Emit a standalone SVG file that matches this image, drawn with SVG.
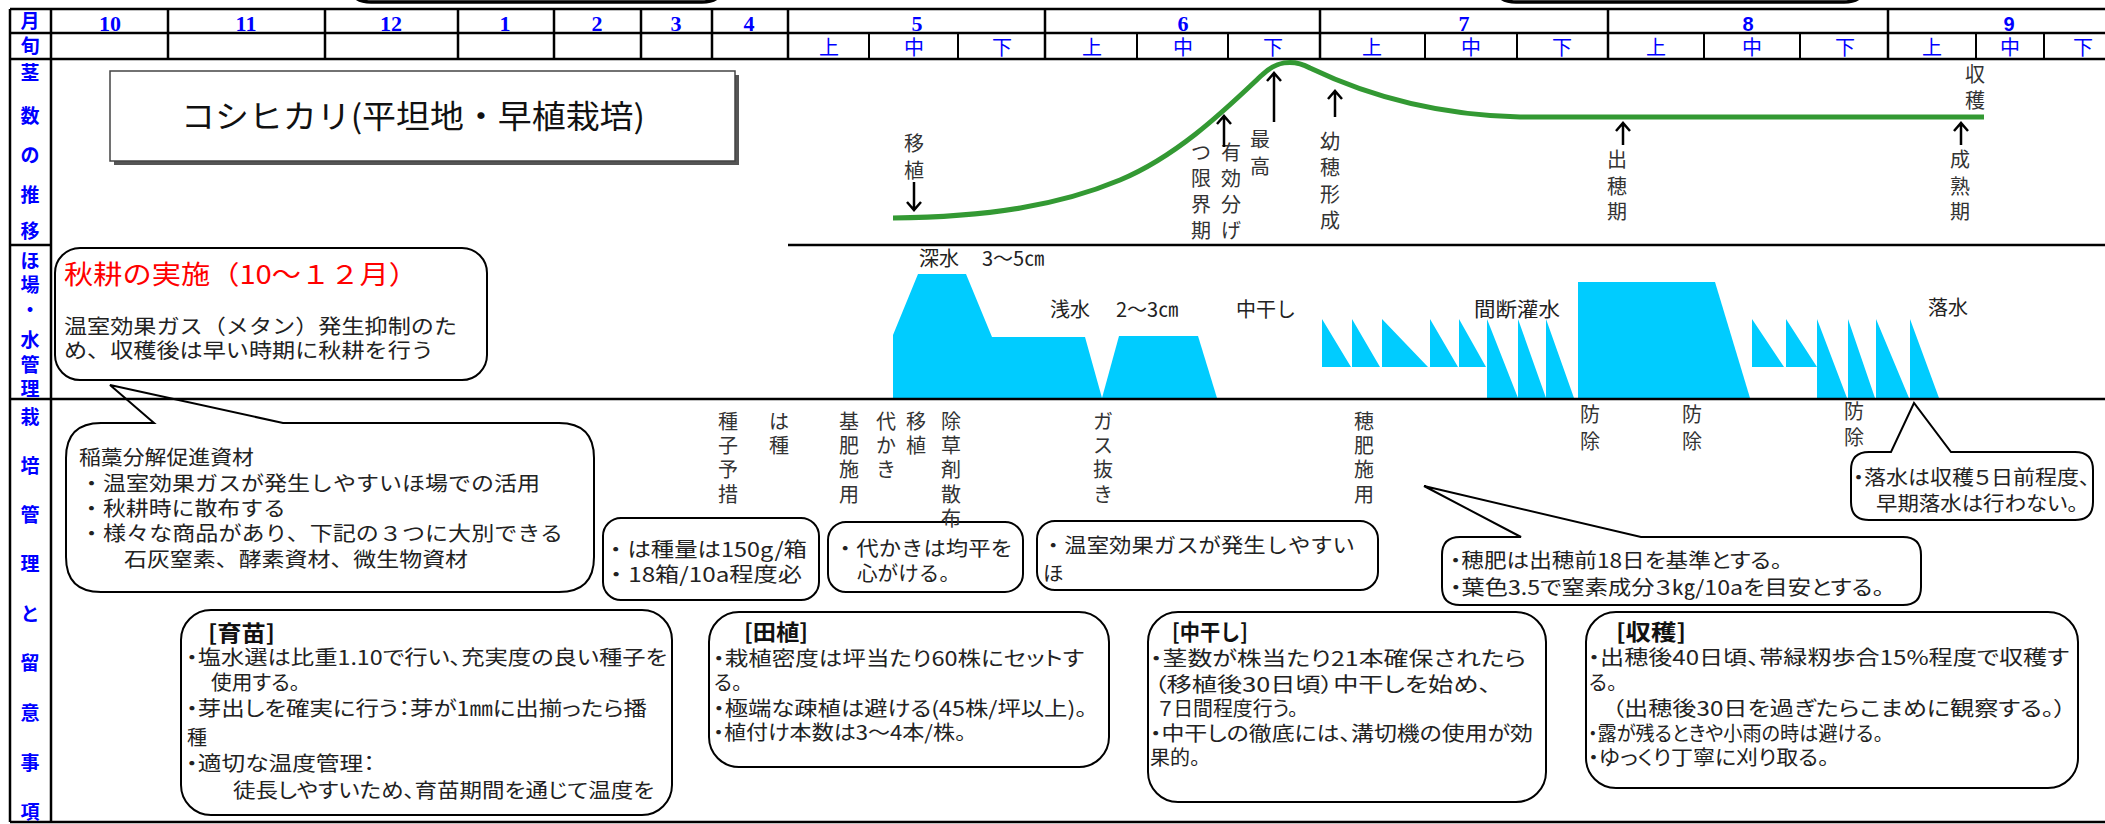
<svg xmlns="http://www.w3.org/2000/svg" width="2105" height="824" viewBox="0 0 2105 824">
<style>
.grid{stroke:#000;stroke-width:2.5;fill:none}
.sub{stroke:#000;stroke-width:2;fill:none}
.lbl{font-family:"Noto Sans CJK JP",sans-serif;font-size:19px;font-weight:bold;fill:#0000ff;text-anchor:middle}
.mon{font-family:"Liberation Serif",serif;font-size:22px;font-weight:bold;fill:#0000ff;text-anchor:middle}
.mons{font-family:"Liberation Sans",sans-serif;font-size:20px;font-weight:bold;fill:#0000ff;text-anchor:middle}
.jun{font-family:"Noto Sans CJK JP",sans-serif;font-size:20px;fill:#0000ff;text-anchor:middle}
.v{font-family:"Noto Sans CJK JP",sans-serif;font-size:20px;fill:#333;text-anchor:middle}
.w{font-family:"Noto Sans CJK JP",sans-serif;font-size:20px;fill:#222}
.t{font-family:"Noto Sans CJK JP",sans-serif;font-size:20px;fill:#222;font-feature-settings:"palt" 1}
.t2{font-family:"Noto Sans CJK JP",sans-serif;font-size:20.5px;fill:#222}
.hd{font-family:"Noto Sans CJK JP",sans-serif;font-size:22px;font-weight:bold;fill:#111}
.box{fill:#fff;stroke:#000;stroke-width:2}
.water{fill:#00ccff}
.arrow{stroke:#000;stroke-width:2.5;fill:none}
</style>

<g id="offpage-top" fill="none" stroke="#000" stroke-width="3.5">
<path d="M349,-20 Q349,2 371,2 L702,2 Q724,2 724,-20"/>
<path d="M1494,-20 Q1494,2 1516,2 L1844,2 Q1866,2 1866,-20"/>
</g>

<g id="title">
<rect x="114" y="75" width="625" height="90" fill="#555"/>
<rect x="110" y="71" width="625" height="90" fill="#fff" stroke="#444" stroke-width="1.5"/>
<text x="181" y="128" font-family="'Noto Sans CJK JP',sans-serif" font-size="32" fill="#111" textLength="464" lengthAdjust="spacingAndGlyphs">コシヒカリ(平坦地・早植栽培)</text>
</g>

<g id="water">
<path class="water" d="M893,398 L893,335 L918,274 L966,274 L992,337 L1085,337 L1102,398 Z"/>
<path class="water" d="M1102,398 L1119,336 L1198,336 L1217,398 Z"/>
<path class="water" d="M1322,319 L1322,367 L1351,367 Z M1352,319 L1352,367 L1380,367 Z M1382,319 L1382,367 L1428,367 Z M1430,319 L1430,367 L1458,367 Z M1459,319 L1459,367 L1486,367 Z"/>
<path class="water" d="M1487,319 L1487,398 L1518,398 Z M1518,319 L1518,398 L1546,398 Z M1546,319 L1546,398 L1574,398 Z"/>
<path class="water" d="M1578,282 L1715,282 L1750,398 L1578,398 Z"/>
<path class="water" d="M1752,319 L1752,367 L1784,367 Z M1786,319 L1786,367 L1817,367 Z"/>
<path class="water" d="M1817,319 L1817,398 L1847,398 Z M1848,319 L1848,398 L1875,398 Z M1876,319 L1876,398 L1909,398 Z M1910,319 L1910,398 L1939,398 Z"/>
<text class="w" x="919" y="266">深水 <tspan x="982">3～5㎝</tspan></text>
<text class="w" x="1050" y="317">浅水 <tspan x="1116">2～3㎝</tspan></text>
<text class="w" x="1236" y="317">中干し</text>
<text class="w" x="1474" y="317" textLength="86" lengthAdjust="spacingAndGlyphs">間断灌水</text>
<text class="w" x="1928" y="315">落水</text>
</g>

<g id="akiuchi-box">
<rect class="box" x="55" y="248" width="432" height="132" rx="25"/>
<text x="64" y="284" font-family="'Noto Sans CJK JP',sans-serif" font-size="26" fill="#ff0000" textLength="354" lengthAdjust="spacingAndGlyphs">秋耕の実施（10～１２月）</text>
<text class="t2" x="64" y="334" font-size="20" textLength="393" lengthAdjust="spacingAndGlyphs">温室効果ガス（メタン）発生抑制のた</text>
<text class="t2" x="64" y="358" font-size="20" textLength="370" lengthAdjust="spacingAndGlyphs">め、収穫後は早い時期に秋耕を行う</text>
</g>

<g id="inawara-box">
<path class="box" d="M101,423 L154,423 L110,385 L283,423 L559,423 Q594,423 594,458 L594,557 Q594,592 559,592 L101,592 Q66,592 66,557 L66,458 Q66,423 101,423 Z"/>
<text class="t2" x="79" y="465" textLength="175" lengthAdjust="spacingAndGlyphs">稲藁分解促進資材</text>
<text class="t2" x="80" y="491" textLength="460" lengthAdjust="spacingAndGlyphs">・温室効果ガスが発生しやすいほ場での活用</text>
<text class="t2" x="80" y="516" textLength="206" lengthAdjust="spacingAndGlyphs">・秋耕時に散布する</text>
<text class="t2" x="80" y="541" textLength="483" lengthAdjust="spacingAndGlyphs">・様々な商品があり、下記の３つに大別できる</text>
<text class="t2" x="124" y="567" textLength="344" lengthAdjust="spacingAndGlyphs">石灰窒素、酵素資材、微生物資材</text>
</g>

<g id="hashu-box">
<rect class="box" x="603" y="518" width="216" height="82" rx="18"/>
<text class="t2" x="604" y="557" textLength="203" lengthAdjust="spacingAndGlyphs">・は種量は150g/箱</text>
<text class="t2" x="604" y="582" textLength="198" lengthAdjust="spacingAndGlyphs">・18箱/10a程度必</text>
</g>

<g id="shirokaki-box">
<rect class="box" x="828" y="522" width="195" height="70" rx="18"/>
<text class="t2" x="834" y="556" textLength="179" lengthAdjust="spacingAndGlyphs">・代かきは均平を</text>
<text class="t2" x="857" y="581" textLength="103" lengthAdjust="spacingAndGlyphs">心がける。</text>
</g>

<g id="gasnuki-box">
<rect class="box" x="1037" y="521" width="341" height="69" rx="18"/>
<text class="t2" x="1042" y="553" textLength="313" lengthAdjust="spacingAndGlyphs">・温室効果ガスが発生しやすい</text>
<text class="t2" x="1043" y="581">ほ</text>
</g>

<g id="hogoe-box">
<path class="box" d="M1460,537 L1521,537 L1424,486 L1641,537 L1903,537 Q1921,537 1921,555 L1921,587 Q1921,605 1903,605 L1460,605 Q1442,605 1442,587 L1442,555 Q1442,537 1460,537 Z"/>
<text class="t" x="1450" y="568" textLength="332" lengthAdjust="spacingAndGlyphs">・穂肥は出穂前18日を基準とする。</text>
<text class="t" x="1450" y="595" textLength="434" lengthAdjust="spacingAndGlyphs">・葉色3.5で窒素成分３㎏/10aを目安とする。</text>
</g>

<g id="rakusui-box">
<path class="box" d="M1869,452 L1891,452 L1914,403 L1951,452 L2075,452 Q2093,452 2093,470 L2093,502 Q2093,520 2075,520 L1869,520 Q1851,520 1851,502 L1851,470 Q1851,452 1869,452 Z"/>
<text class="t" x="1853" y="485" textLength="237" lengthAdjust="spacingAndGlyphs">・落水は収穫５日前程度、</text>
<text class="t" x="1876" y="511" textLength="202" lengthAdjust="spacingAndGlyphs">早期落水は行わない。</text>
</g>

<g id="ikubyo-box">
<rect class="box" x="181" y="610" width="491" height="205" rx="30"/>
<text class="hd" x="208" y="641" textLength="67" lengthAdjust="spacingAndGlyphs">[育苗]</text>
<text class="t" x="186" y="665" textLength="481" lengthAdjust="spacingAndGlyphs">・塩水選は比重1.10で行い、充実度の良い種子を</text>
<text class="t" x="211" y="690" textLength="89" lengthAdjust="spacingAndGlyphs">使用する。</text>
<text class="t" x="186" y="716" textLength="461" lengthAdjust="spacingAndGlyphs">・芽出しを確実に行う：芽が1㎜に出揃ったら播</text>
<text class="t" x="187" y="745">種</text>
<text class="t" x="186" y="771" textLength="189" lengthAdjust="spacingAndGlyphs">・適切な温度管理：</text>
<text class="t" x="233" y="798" textLength="421" lengthAdjust="spacingAndGlyphs">徒長しやすいため、育苗期間を通じて温度を</text>
</g>

<g id="taue-box">
<rect class="box" x="709" y="612" width="400" height="155" rx="30"/>
<text class="hd" x="744" y="640" textLength="64" lengthAdjust="spacingAndGlyphs">[田植]</text>
<text class="t" x="713" y="666" textLength="371" lengthAdjust="spacingAndGlyphs">・栽植密度は坪当たり60株にセットす</text>
<text class="t" x="714" y="690">る。</text>
<text class="t" x="713" y="716" textLength="374" lengthAdjust="spacingAndGlyphs">・極端な疎植は避ける(45株/坪以上)。</text>
<text class="t" x="713" y="740" textLength="253" lengthAdjust="spacingAndGlyphs">・植付け本数は3～4本/株。</text>
</g>

<g id="nakaboshi-box">
<rect class="box" x="1148" y="612" width="398" height="190" rx="30"/>
<text class="hd" x="1172" y="640" textLength="76" lengthAdjust="spacingAndGlyphs">[中干し]</text>
<text class="t" x="1150" y="666" textLength="376" lengthAdjust="spacingAndGlyphs">・茎数が株当たり21本確保されたら</text>
<text class="t" x="1154" y="692" textLength="337" lengthAdjust="spacingAndGlyphs">（移植後30日頃）中干しを始め、</text>
<text class="t" x="1158" y="716" textLength="140" lengthAdjust="spacingAndGlyphs">７日間程度行う。</text>
<text class="t" x="1150" y="741" textLength="383" lengthAdjust="spacingAndGlyphs">・中干しの徹底には、溝切機の使用が効</text>
<text class="t" x="1150" y="765">果的。</text>
</g>

<g id="shukaku-box">
<rect class="box" x="1586" y="612" width="492" height="176" rx="30"/>
<text class="hd" x="1616" y="640" textLength="70" lengthAdjust="spacingAndGlyphs">[収穫]</text>
<text class="t" x="1588" y="665" textLength="481" lengthAdjust="spacingAndGlyphs">・出穂後40日頃、帯緑籾歩合15%程度で収穫す</text>
<text class="t" x="1589" y="690">る。</text>
<text class="t" x="1612" y="716" textLength="454" lengthAdjust="spacingAndGlyphs">（出穂後30日を過ぎたらこまめに観察する。）</text>
<text class="t" x="1588" y="741" textLength="295" lengthAdjust="spacingAndGlyphs">・露が残るときや小雨の時は避ける。</text>
<text class="t" x="1588" y="765" textLength="241" lengthAdjust="spacingAndGlyphs">・ゆっくり丁寧に刈り取る。</text>
</g>

<g id="grid">
<path class="grid" d="M10,9 H2105 M10,33 H2105 M10,59 H2105 M10,245 H51 M788,245 H2105 M10,399 H2105 M10,822 H2105 M10,9 V822 M51,9 V822"/>
<path class="grid" d="M168,9 V59 M325,9 V59 M458,9 V59 M554,9 V59 M641,9 V59 M712,9 V59 M788,9 V59 M1045,9 V59 M1320,9 V59 M1608,9 V59 M1888,9 V59"/>
<path class="sub" d="M869,33 V59 M958,33 V59 M1137,33 V59 M1228,33 V59 M1425,33 V59 M1517,33 V59 M1704,33 V59 M1800,33 V59 M1976,33 V59 M2044,33 V59"/>
</g>

<g id="header-labels">
<text class="lbl" x="30" y="28">月</text>
<text class="lbl" x="30" y="53">旬</text>
<text class="mon" x="110" y="31">10</text>
<text class="mon" x="246" y="31">11</text>
<text class="mon" x="391" y="31">12</text>
<text class="mon" x="505" y="31">1</text>
<text class="mon" x="597" y="31">2</text>
<text class="mon" x="676" y="31">3</text>
<text class="mon" x="749" y="31">4</text>
<text class="mon" x="917" y="31">5</text>
<text class="mon" x="1183" y="31">6</text>
<text class="mon" x="1464" y="31">7</text>
<text class="mons" x="1748" y="31">8</text>
<text class="mons" x="2009" y="31">9</text>
<text class="jun" x="829" y="55">上</text>
<text class="jun" x="914" y="55">中</text>
<text class="jun" x="1002" y="55">下</text>
<text class="jun" x="1092" y="55">上</text>
<text class="jun" x="1183" y="55">中</text>
<text class="jun" x="1273" y="55">下</text>
<text class="jun" x="1372" y="55">上</text>
<text class="jun" x="1471" y="55">中</text>
<text class="jun" x="1562" y="55">下</text>
<text class="jun" x="1656" y="55">上</text>
<text class="jun" x="1752" y="55">中</text>
<text class="jun" x="1845" y="55">下</text>
<text class="jun" x="1932" y="55">上</text>
<text class="jun" x="2010" y="55">中</text>
<text class="jun" x="2083" y="55">下</text>
</g>

<g id="row-labels">
<text class="lbl"><tspan x="30" y="80">茎</tspan><tspan x="30" y="123">数</tspan><tspan x="30" y="162">の</tspan><tspan x="30" y="202">推</tspan><tspan x="30" y="238">移</tspan></text>
<text class="lbl"><tspan x="30" y="268">ほ</tspan><tspan x="30" y="292">場</tspan><tspan x="30" y="317">・</tspan><tspan x="30" y="347">水</tspan><tspan x="30" y="372">管</tspan><tspan x="30" y="396">理</tspan></text>
<text class="lbl"><tspan x="30" y="424">栽</tspan><tspan x="30" y="473">培</tspan><tspan x="30" y="522">管</tspan><tspan x="30" y="571">理</tspan><tspan x="30" y="621">と</tspan><tspan x="30" y="670">留</tspan><tspan x="30" y="720">意</tspan><tspan x="30" y="770">事</tspan><tspan x="30" y="819">項</tspan></text>
</g>

<g id="stem-curve">
<path d="M893,218 C990,217 1060,205 1120,180 C1180,155 1230,105 1262,75 C1275,62 1292,58 1310,68 C1360,92 1430,115 1520,117 L1984,117" fill="none" stroke="#339933" stroke-width="5"/>
</g>

<g id="stage-labels">
<text class="v"><tspan x="914" y="151">移</tspan><tspan x="914" y="178">植</tspan></text>
<text class="v"><tspan x="1231" y="160">有</tspan><tspan x="1231" y="186">効</tspan><tspan x="1231" y="212">分</tspan><tspan x="1231" y="238">げ</tspan></text>
<text class="v"><tspan x="1201" y="160">つ</tspan><tspan x="1201" y="186">限</tspan><tspan x="1201" y="212">界</tspan><tspan x="1201" y="238">期</tspan></text>
<text class="v"><tspan x="1260" y="147">最</tspan><tspan x="1260" y="174">高</tspan></text>
<text class="v"><tspan x="1330" y="149">幼</tspan><tspan x="1330" y="175">穂</tspan><tspan x="1330" y="202">形</tspan><tspan x="1330" y="228">成</tspan></text>
<text class="v"><tspan x="1617" y="167">出</tspan><tspan x="1617" y="194">穂</tspan><tspan x="1617" y="219">期</tspan></text>
<text class="v"><tspan x="1960" y="167">成</tspan><tspan x="1960" y="194">熟</tspan><tspan x="1960" y="219">期</tspan></text>
<text class="v"><tspan x="1975" y="82">収</tspan><tspan x="1975" y="108">穫</tspan></text>
</g>

<g id="work-labels">
<text class="v"><tspan x="728" y="429">種</tspan><tspan x="728" y="453">子</tspan><tspan x="728" y="477">予</tspan><tspan x="728" y="502">措</tspan></text>
<text class="v"><tspan x="779" y="429">は</tspan><tspan x="779" y="453">種</tspan></text>
<text class="v"><tspan x="849" y="429">基</tspan><tspan x="849" y="453">肥</tspan><tspan x="849" y="477">施</tspan><tspan x="849" y="502">用</tspan></text>
<text class="v"><tspan x="886" y="429">代</tspan><tspan x="886" y="453">か</tspan><tspan x="886" y="477">き</tspan></text>
<text class="v"><tspan x="916" y="429">移</tspan><tspan x="916" y="453">植</tspan></text>
<text class="v"><tspan x="951" y="429">除</tspan><tspan x="951" y="453">草</tspan><tspan x="951" y="477">剤</tspan><tspan x="951" y="502">散</tspan><tspan x="951" y="526">布</tspan></text>
<text class="v"><tspan x="1103" y="429">ガ</tspan><tspan x="1103" y="453">ス</tspan><tspan x="1103" y="477">抜</tspan><tspan x="1103" y="502">き</tspan></text>
<text class="v"><tspan x="1364" y="429">穂</tspan><tspan x="1364" y="453">肥</tspan><tspan x="1364" y="477">施</tspan><tspan x="1364" y="502">用</tspan></text>
<text class="v"><tspan x="1590" y="422">防</tspan><tspan x="1590" y="449">除</tspan></text>
<text class="v"><tspan x="1692" y="422">防</tspan><tspan x="1692" y="449">除</tspan></text>
<text class="v"><tspan x="1854" y="419">防</tspan><tspan x="1854" y="445">除</tspan></text>
</g>

<g id="connectors">
<path class="arrow" d="M914,182 V210 M907,202 L914,210 L921,202"/>
<path class="arrow" d="M1224,147 V116 M1217,124 L1224,116 L1231,124"/>
<path class="arrow" d="M1274,122 V73 M1267,81 L1274,73 L1281,81"/>
<path class="arrow" d="M1335,117 V91 M1328,99 L1335,91 L1342,99"/>
<path class="arrow" d="M1623,145 V123 M1616,131 L1623,123 L1630,131"/>
<path class="arrow" d="M1961,145 V123 M1954,131 L1961,123 L1968,131"/>
</g>
</svg>
